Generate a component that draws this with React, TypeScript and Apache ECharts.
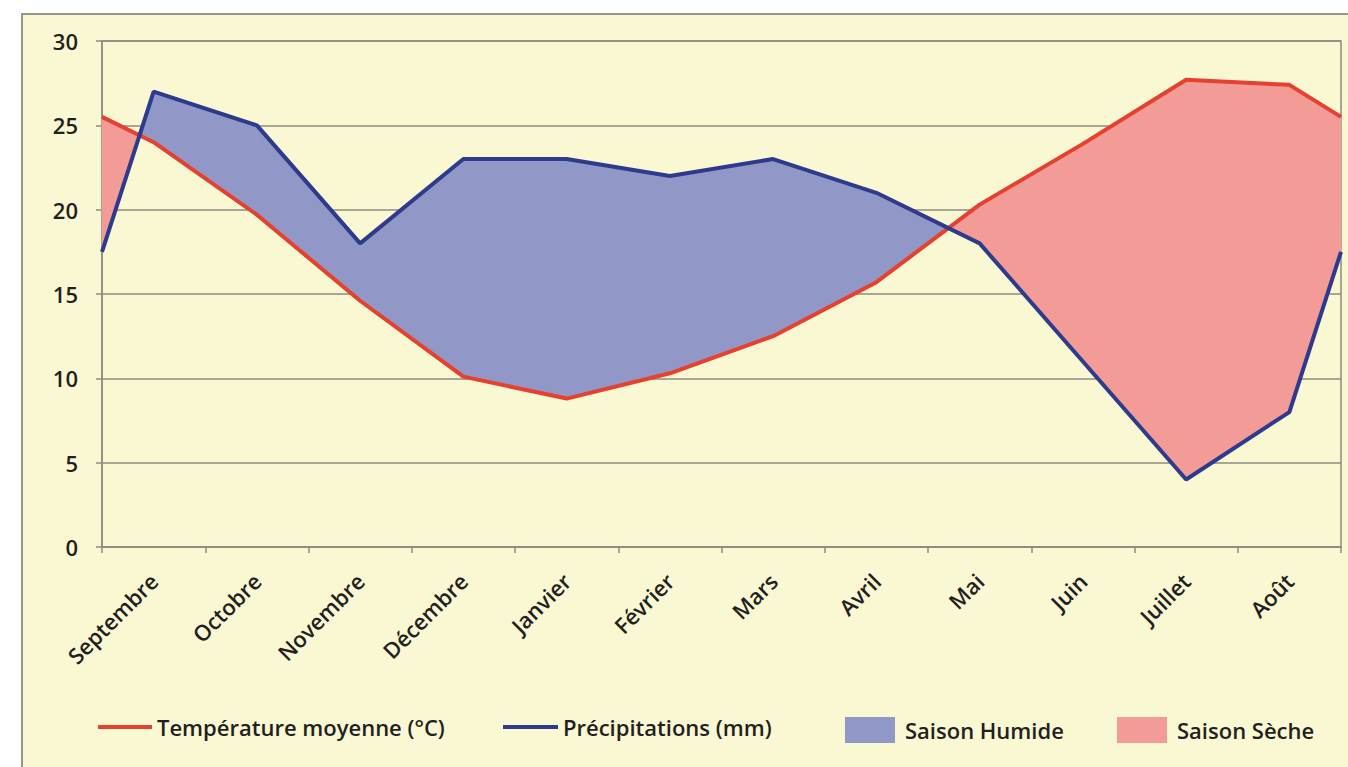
import React, { useEffect, useRef } from "react";
import * as echarts from "echarts";

const months = ["Septembre", "Octobre", "Novembre", "Décembre", "Janvier", "Février", "Mars", "Avril", "Mai", "Juin", "Juillet", "Août"];
const temperature = [24.0, 19.7, 14.6, 10.1, 8.8, 10.3, 12.5, 15.7, 20.3, 23.9, 27.7, 27.4];
const precipitation = [27, 25, 18, 23, 23, 22, 23, 21, 18, 11, 4, 8];
// values drawn at the left (start of September) and right (end of August) edges of the plot
const temperatureEdges = [25.5, 25.5];
const precipitationEdges = [17.5, 17.5];

const FONT = "'Open Sans', 'Noto Sans', sans-serif";
const TEXT = "#231f20";
const GRID = "#8e8b82";
const RED_LINE = "#e6402e";
const RED_FILL = "#f29b97";
const BLUE_LINE = "#2e3a8c";
const BLUE_FILL = "#9198c8";

function withEdges(values: number[], edges: number[]): number[][] {
  const pts: number[][] = [[0, edges[0]]];
  values.forEach((v, i) => pts.push([i + 0.5, v]));
  pts.push([values.length, edges[1]]);
  return pts;
}

export default function App() {
  const ref = useRef<HTMLDivElement>(null);
  useEffect(() => {
    if (!ref.current) return;
    const chart = echarts.init(ref.current, undefined, { renderer: "svg" });
    const tPts = withEdges(temperature, temperatureEdges);
    const pPts = withEdges(precipitation, precipitationEdges);
    const segments = tPts.slice(0, -1).map((_, i) => [i + 0.5, 0]);

    const makeRender = (sign: number, color: string) => (params: any, api: any) => {
      const i = params.dataIndex;
      const ta = api.coord(tPts[i]);
      const tb = api.coord(tPts[i + 1]);
      const pa = api.coord(pPts[i]);
      const pb = api.coord(pPts[i + 1]);
      const ua = sign > 0 ? pa : ta;
      const ub = sign > 0 ? pb : tb;
      const la = sign > 0 ? ta : pa;
      const lb = sign > 0 ? tb : pb;
      const d0 = sign * (pPts[i][1] - tPts[i][1]);
      const d1 = sign * (pPts[i + 1][1] - tPts[i + 1][1]);
      let pts: number[][] | null = null;
      if (d0 >= 0 && d1 >= 0) {
        pts = [ua, ub, lb, la];
      } else if (d0 > 0 && d1 < 0) {
        const t = d0 / (d0 - d1);
        const c = [la[0] + t * (lb[0] - la[0]), la[1] + t * (lb[1] - la[1])];
        pts = [ua, c, la];
      } else if (d0 < 0 && d1 > 0) {
        const t = d0 / (d0 - d1);
        const c = [la[0] + t * (lb[0] - la[0]), la[1] + t * (lb[1] - la[1])];
        pts = [c, ub, lb];
      }
      if (!pts) return null;
      return {
        type: "polygon",
        shape: { points: pts },
        style: { fill: color, stroke: color, lineWidth: 1 },
      };
    };

    const legendText = { fontSize: 22, fontWeight: 600, color: TEXT, fontFamily: FONT };
    const legendBase = {
      selectedMode: false,
      icon: "rect",
      orient: "horizontal",
      padding: 0,
      textStyle: legendText,
    };

    chart.setOption({
      animation: false,
      backgroundColor: "transparent",
      textStyle: { fontFamily: FONT },
      grid: {
        left: 102,
        top: 41,
        right: 7,
        bottom: 220,
        show: true,
        borderColor: GRID,
        borderWidth: 1.5,
        backgroundColor: "transparent",
      },
      xAxis: [
        {
          type: "category",
          data: months,
          boundaryGap: true,
          axisLine: { lineStyle: { color: GRID, width: 1.5 } },
          axisTick: { show: true, length: 6, alignWithLabel: false, lineStyle: { color: GRID, width: 1.5 } },
          axisLabel: { rotate: 45, interval: 0, fontSize: 22, fontWeight: 600, color: TEXT, fontFamily: FONT, margin: 30 },
          splitLine: { show: false },
        },
        { type: "value", min: 0, max: 12, show: false },
      ],
      yAxis: {
        type: "value",
        min: 0,
        max: 30,
        interval: 5,
        axisLine: { show: true, lineStyle: { color: GRID, width: 1.5 } },
        axisTick: { show: true, length: 6, lineStyle: { color: GRID, width: 1.5 } },
        axisLabel: { fontSize: 22, fontWeight: 600, color: TEXT, fontFamily: FONT, margin: 24 },
        splitLine: { show: true, lineStyle: { color: GRID, width: 1.5 } },
      },
      legend: [
        { ...legendBase, left: 98, top: 716, itemWidth: 54, itemHeight: 4, data: ["Température moyenne (°C)"] },
        { ...legendBase, left: 503, top: 716, itemWidth: 55, itemHeight: 4, data: ["Précipitations (mm)"] },
        { ...legendBase, left: 845, top: 717, itemWidth: 50, itemHeight: 26, data: ["Saison Humide"], textStyle: { ...legendText, padding: [0, 0, 0, 5] } },
        { ...legendBase, left: 1117, top: 717, itemWidth: 50, itemHeight: 26, data: ["Saison Sèche"], textStyle: { ...legendText, padding: [0, 0, 0, 5] } },
      ],
      series: [
        {
          name: "Saison Humide",
          type: "custom",
          xAxisIndex: 1,
          yAxisIndex: 0,
          z: 1,
          itemStyle: { color: BLUE_FILL },
          renderItem: makeRender(1, BLUE_FILL),
          data: segments,
        },
        {
          name: "Saison Sèche",
          type: "custom",
          xAxisIndex: 1,
          yAxisIndex: 0,
          z: 1,
          itemStyle: { color: RED_FILL },
          renderItem: makeRender(-1, RED_FILL),
          data: segments,
        },
        {
          name: "Température moyenne (°C)",
          type: "line",
          xAxisIndex: 1,
          yAxisIndex: 0,
          z: 3,
          symbol: "none",
          itemStyle: { color: RED_LINE },
          lineStyle: { color: RED_LINE, width: 4 },
          data: tPts,
        },
        {
          name: "Précipitations (mm)",
          type: "line",
          xAxisIndex: 1,
          yAxisIndex: 0,
          z: 4,
          symbol: "none",
          itemStyle: { color: BLUE_LINE },
          lineStyle: { color: BLUE_LINE, width: 4 },
          data: pPts,
        },
      ],
    });
    return () => chart.dispose();
  }, []);

  return (
    <div style={{ position: "absolute", left: 0, top: 0, width: 1348, height: 767, background: "#ffffff", overflow: "hidden" }}>
      <div
        style={{
          position: "absolute",
          left: 21,
          top: 13,
          width: 1400,
          height: 800,
          background: "#faf7d3",
          border: "2px solid #9a958a",
        }}
      />
      <div ref={ref} style={{ position: "absolute", left: 0, top: 0, width: 1348, height: 767 }} />
    </div>
  );
}
